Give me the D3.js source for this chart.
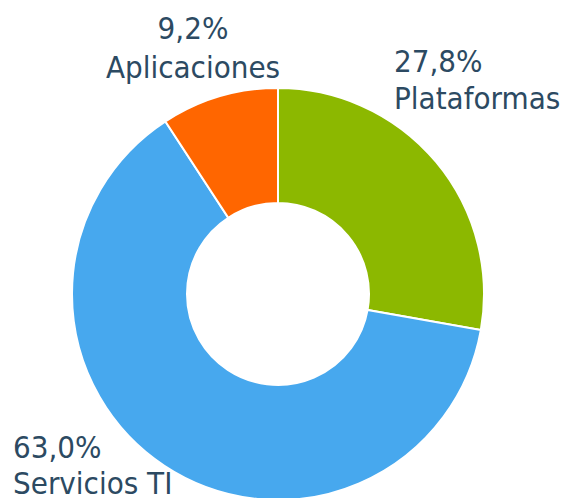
<!DOCTYPE html>
<html><head><meta charset="utf-8">
<script src="https://cdn.jsdelivr.net/npm/d3@7"></script>
<style>html,body{margin:0;padding:0;background:#fff;overflow:hidden}</style>
</head><body>
<svg id="c" width="568" height="498"></svg>
<script>
const categories = ["Plataformas", "Servicios TI", "Aplicaciones"];
const values = [27.8, 63.0, 9.2];
const valueLabels = ["27,8%", "63,0%", "9,2%"];
const colors = ["#8cb800", "#47a8ee", "#ff6600"];

const svg = d3.select("#c");
const cx = 278, cy = 294, R = 206, r = 91;
const pie = d3.pie().sort(null).value(d => d)(values);
const arc = d3.arc().innerRadius(r).outerRadius(R);
const g = svg.append("g").attr("transform", `translate(${cx},${cy})`);
g.selectAll("path").data(pie).enter().append("path")
  .attr("d", arc).attr("fill", (d, i) => colors[i])
  .attr("stroke", "#fff").attr("stroke-width", 2);

const labelPos = [
  {x: 394, y1: 72, y2: 109, anchor: "start"},
  {x: 13, y1: 458, y2: 494, anchor: "start"},
  {x: 193, y1: 39, y2: 78, anchor: "middle"}
];
const font = "'DejaVu Sans Condensed', 'DejaVu Sans', sans-serif";
categories.forEach((c, i) => {
  const p = labelPos[i];
  const t = svg.append("text").attr("text-anchor", p.anchor)
    .attr("font-family", font).attr("font-size", 31).attr("fill", "#2c4a62");
  t.append("tspan").attr("x", p.x).attr("y", p.y1).text(valueLabels[i]);
  t.append("tspan").attr("x", p.x).attr("y", p.y2).text(c);
});
</script>
</body></html>
